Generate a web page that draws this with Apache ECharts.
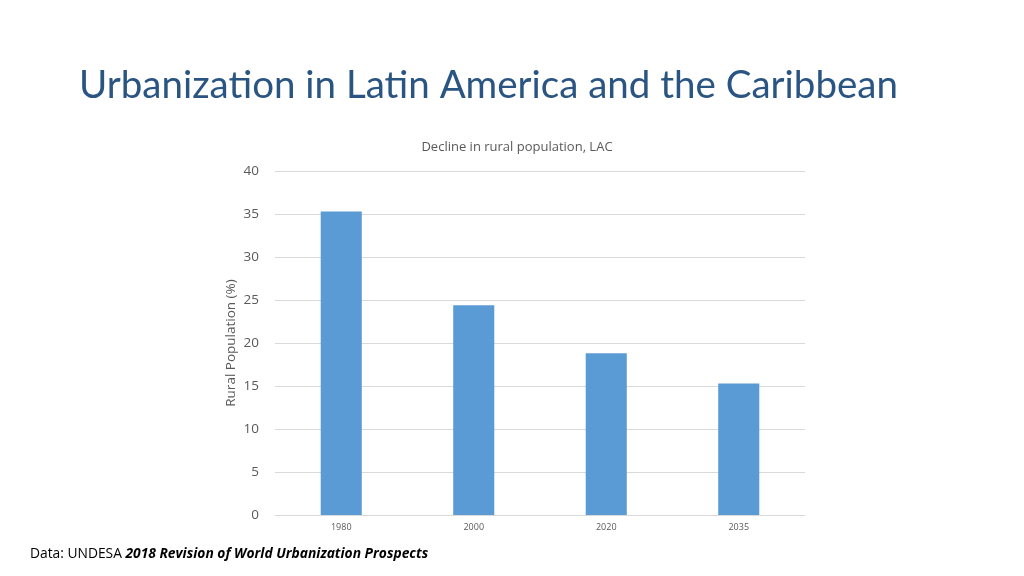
<!DOCTYPE html>
<html><head><meta charset="utf-8">
<script src="https://cdn.jsdelivr.net/npm/echarts@6/dist/echarts.min.js"></script>
<style>html,body{margin:0;padding:0;background:#fff}#c{width:1024px;height:576px}</style>
</head><body><div id="c"></div>
<script>
const categories = ['1980', '2000', '2020', '2035'];
const ruralPct = [35.3, 24.4, 18.8, 15.3];
const yTicks = [0, 5, 10, 15, 20, 25, 30, 35, 40];

const chart = echarts.init(document.getElementById('c'));
chart.setOption({
  animation: false,
  backgroundColor: '#fff',
  title: [
    {text: 'Urbanization in Latin America and the Caribbean', left: 74, top: 61,
     textStyle: {fontFamily: 'Lato', fontWeight: 'normal', fontSize: 38.5, color: '#2a5582'}},
    {text: 'Decline in rural population, LAC', left: 512, textAlign: 'center', top: 136,
     textStyle: {fontFamily: 'Open Sans', fontWeight: 'normal', fontSize: 13, color: '#595959'}}
  ],
  graphic: [{
    type: 'text', left: 30, top: 547,
    style: {rich: {a: {fontFamily: 'Open Sans', fontSize: 13.8, fill: '#000'},
                   b: {fontFamily: 'Open Sans', fontSize: 13.8, fontWeight: 'bold', fontStyle: 'italic', fill: '#000'}},
            text: '{a|Data: UNDESA }{b|2018 Revision of World Urbanization Prospects}'}
  }],
  grid: {left: 275, right: 219, top: 171, bottom: 61},
  xAxis: {
    type: 'category', data: categories,
    axisLine: {lineStyle: {color: '#d9d9d9'}},
    axisTick: {show: false},
    axisLabel: {fontFamily: 'Open Sans', fontSize: 9, color: '#595959', margin: 8}
  },
  yAxis: {
    type: 'value', min: yTicks[0], max: yTicks[yTicks.length - 1], interval: 5,
    name: 'Rural Population (%)', nameLocation: 'middle', nameGap: 37, nameMoveOverlap: false,
    nameTextStyle: {fontFamily: 'Open Sans', fontSize: 13.5, color: '#595959'},
    axisLine: {show: false}, axisTick: {show: false},
    axisLabel: {fontFamily: 'Open Sans', fontSize: 13.5, color: '#595959', margin: 16},
    splitLine: {lineStyle: {color: '#d9d9d9'}}
  },
  series: [{
    type: 'bar', data: ruralPct, barWidth: '31%',
    itemStyle: {color: '#5b9bd5'}
  }]
});
</script></body></html>
